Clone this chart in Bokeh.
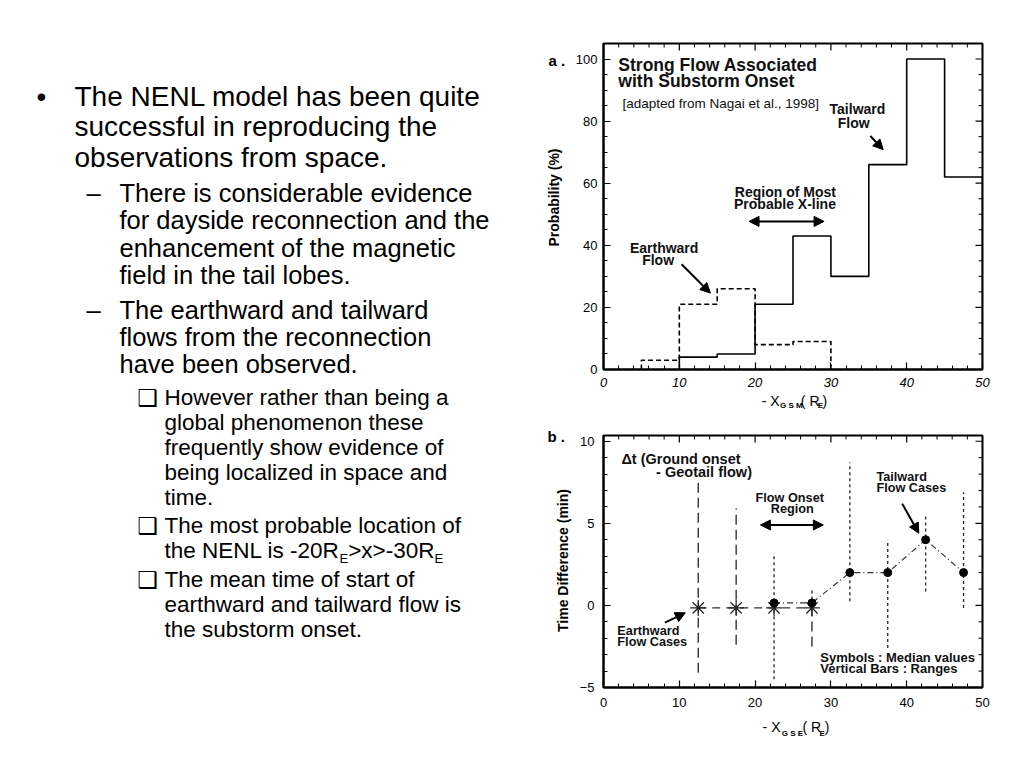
import math
from bokeh.plotting import figure
from bokeh.layouts import row, column
from bokeh.models import (Range1d, LinearAxis, Label, Arrow, NormalHead,
                          FixedTicker, ColumnDataSource)
from bokeh.embed import file_html
from bokeh.resources import INLINE
from bokeh.core.properties import value

FONT = "Liberation Sans"
NAN = float("nan")
K = 0.35  # empirical shift of the alphabetic baseline (fraction of font size)

# ---------------- slide text ----------------
bullet1 = ["The NENL model has been quite",
           "successful in reproducing the",
           "observations from space."]
sub1 = ["There is considerable evidence",
        "for dayside reconnection and the",
        "enhancement of the magnetic",
        "field in the tail lobes."]
sub2 = ["The earthward and tailward",
        "flows from the reconnection",
        "have been observed."]
box1 = ["However rather than being a",
        "global phenomenon these",
        "frequently show evidence of",
        "being localized in space and",
        "time."]
box2_first = "The most probable location of"
box2_parts = ["the NENL is -20R", "E", ">x>-30R", "E"]
box3 = ["The mean time of start of",
        "earthward and tailward flow is",
        "the substorm onset."]

# ---------------- panel a data ----------------
tail_edges = [10, 15, 20, 25, 30, 35, 40, 45, 50]
tail_prob = [4, 5, 21, 43, 30, 66, 100, 62]
earth_edges = [5, 10, 15, 20, 25, 30]
earth_prob = [3, 21, 26, 8, 9]
a_xticks = [0, 10, 20, 30, 40, 50]
a_yticks = [0, 20, 40, 60, 80, 100]

# ---------------- panel b data ----------------
earth_x = [12.5, 17.5, 22.5, 27.5]
earth_med = [-0.15, -0.15, -0.15, -0.15]
earth_lo = [-4.1, -2.4, NAN, -2.5]
earth_hi = [7.6, 5.9, NAN, -0.2]
tail_x = [22.5, 27.5, 32.5, 37.5, 42.5, 47.5]
tail_med = [0.15, 0.15, 2.0, 2.0, 4.0, 2.0]
tail_lo = [-4.5, 0.0, 0.25, -2.6, 0.85, -0.15]
tail_hi = [3.2, 0.95, 8.7, 4.0, 5.6, 6.9]
b_xticks = [0, 10, 20, 30, 40, 50]
b_yticks = [-5, 0, 5, 10]


def stairs(edges, vals):
    xs, ys = [edges[0]], [0]
    for i, v in enumerate(vals):
        xs += [edges[i], edges[i + 1]]
        ys += [v, v]
    xs.append(edges[-1])
    ys.append(0)
    return xs, ys


def style_axis(ax, ticks, minor, italic=False, standoff=6):
    ax.ticker = FixedTicker(ticks=ticks, minor_ticks=minor)
    ax.axis_line_width = 2
    ax.axis_line_color = "black"
    ax.major_tick_in = 7
    ax.major_tick_out = 0
    ax.minor_tick_in = 4
    ax.minor_tick_out = 0
    ax.major_tick_line_color = "black"
    ax.minor_tick_line_color = "black"
    ax.major_tick_line_width = 1.2
    ax.major_label_text_font = FONT
    ax.major_label_text_font_size = "13px"
    ax.major_label_text_color = "black"
    ax.major_label_standoff = standoff
    ax.major_label_text_font_style = "italic" if italic else "normal"


def mirror_ticks(p, xticks, xminor, yticks, yminor, xmax, ymax):
    # inward ticks on the right and top frame edges
    p.ray(x=[xmax] * len(yticks), y=yticks, length=7, length_units="screen",
          angle=math.pi, line_color="black", line_width=1.2)
    p.ray(x=[xmax] * len(yminor), y=yminor, length=4, length_units="screen",
          angle=math.pi, line_color="black", line_width=1)
    p.ray(x=xticks, y=[ymax] * len(xticks), length=7, length_units="screen",
          angle=-math.pi / 2, line_color="black", line_width=1.2)
    p.ray(x=xminor, y=[ymax] * len(xminor), length=4, length_units="screen",
          angle=-math.pi / 2, line_color="black", line_width=1)


def lab(p, x, y, text, fs, ppu, style="bold", align="left"):
    p.add_layout(Label(x=x, y=y + K * fs / ppu, text=text, text_font=FONT,
                       text_font_size=f"{fs}px", text_font_style=style,
                       text_align=align, text_baseline="alphabetic",
                       text_color="#111"))


def arrow(p, x0, y0, x1, y1, double=False):
    head = lambda: NormalHead(size=10, fill_color="black", line_color="black")
    kw = dict(end=head(), x_start=x0, y_start=y0, x_end=x1, y_end=y1,
              line_width=2, line_color="black")
    if double:
        kw["start"] = head()
    p.add_layout(Arrow(**kw))


def make_fig(w, h, xr, yr, ml, mr, mt, mb):
    p = figure(width=w, height=h, x_range=xr, y_range=yr,
               x_axis_type=None, y_axis_type=None,
               output_backend="svg", toolbar_location=None,
               min_border_left=ml, min_border_right=mr,
               min_border_top=mt, min_border_bottom=mb)
    p.outline_line_color = "black"
    p.outline_line_width = 2
    p.background_fill_color = "white"
    p.border_fill_color = "white"
    return p


def text_fig(x0, x1, y0, y1):
    # plain page-like figure: data units are pixels, y grows downward
    p = figure(width=x1 - x0, height=y1 - y0, x_range=Range1d(x0, x1),
               y_range=Range1d(y1, y0), x_axis_type=None, y_axis_type=None,
               output_backend="svg", toolbar_location=None, min_border=0)
    p.outline_line_color = None
    p.background_fill_color = "white"
    p.border_fill_color = "white"
    return p


def ptext(p, xs, ys, texts, fs, font=FONT, style="normal", angle=0.0, align="left"):
    if angle == 0:
        ys = [y - K * fs for y in ys]
    src = ColumnDataSource(dict(x=xs, y=ys, t=texts))
    p.text(x="x", y="y", text="t", source=src, text_font=value(font),
           text_font_size=f"{fs}px", text_font_style=style, angle=angle,
           text_baseline="alphabetic", text_align=align, text_color="black")


# ================= text panel =================
pt = text_fig(0, 540, 0, 752)
L1, L2, L3 = 28, 25.5, 22.5


def block(lines, x, y0, step, fs):
    ptext(pt, [x] * len(lines), [y0 + i * step for i in range(len(lines))], lines, fs)


block(bullet1, 74, 105.7, 30.5, L1)
ptext(pt, [36], [105.7], ["\u2022"], L1)
block(sub1, 119, 201.7, 27.2, L2)
ptext(pt, [86], [201.7], ["\u2013"], L2)
block(sub2, 119, 318.3, 27.3, L2)
ptext(pt, [86], [318.3], ["\u2013"], L2)
block(box1, 164, 405, 25, L3)
block([box2_first], 164, 533, 25, L3)
block(box3, 164, 587, 25, L3)
ptext(pt, [137, 137, 137], [406, 534, 588], ["\u2751"] * 3, 23, font="DejaVu Sans")
# line with subscripts
ptext(pt, [164], [558], [box2_parts[0]], L3)
ptext(pt, [339], [562.5], [box2_parts[1]], 13)
ptext(pt, [347.7], [558], [box2_parts[2]], L3)
ptext(pt, [434], [562.5], [box2_parts[3]], 13)

# ================= panel labels / y titles =================
pl = text_fig(540, 572, 0, 752)
ptext(pl, [548], [65], ["a ."], 15, style="bold")
ptext(pl, [547], [441], ["b ."], 15, style="bold")
ptext(pl, [553], [197], ["Probability (%)"], 14, style="bold",
      angle=math.pi / 2, align="center")
ptext(pl, [562], [560], ["Time Difference (min)"], 14, style="bold",
      angle=math.pi / 2, align="center")

# ================= panel a =================
PPU_A = 3.1
pa = make_fig(436, 392, Range1d(0, 50), Range1d(0, 105), 28, 25, 43, 23)
a_xminor = [v for v in range(0, 51, 2) if v % 10]
a_yminor = [v for v in range(0, 106, 5) if v % 20]
xa = LinearAxis()
style_axis(xa, a_xticks, a_xminor, italic=True, standoff=8)
pa.add_layout(xa, "below")
ya = LinearAxis()
style_axis(ya, a_yticks, a_yminor, standoff=6)
pa.add_layout(ya, "left")
mirror_ticks(pa, a_xticks, a_xminor, a_yticks, a_yminor, 50, 105)

tx, ty = stairs(tail_edges, tail_prob)
pa.line(tx, ty, line_color="black", line_width=1.6)
ex, ey = stairs(earth_edges, earth_prob)
pa.line(ex, ey, line_color="black", line_width=1.6, line_dash="5 3")

lab(pa, 1.96, 96.1, "Strong Flow Associated", 17.5, PPU_A)
lab(pa, 1.96, 90.8, "with Substorm Onset", 17.5, PPU_A)
lab(pa, 2.5, 84.0, "[adapted from Nagai et al., 1998]", 13.5, PPU_A, style="normal")
lab(pa, 33.5, 82.2, "Tailward", 14, PPU_A, align="center")
lab(pa, 33.0, 77.8, "Flow", 14, PPU_A, align="center")
arrow(pa, 35.2, 75.2, 36.9, 70.8)
lab(pa, 24.0, 55.6, "Region of Most", 14, PPU_A, align="center")
lab(pa, 24.2, 51.7, "Probable  X-line", 14, PPU_A, align="center")
arrow(pa, 19.2, 47.7, 29.1, 47.7, double=True)
lab(pa, 8.0, 37.7, "Earthward", 14, PPU_A, align="center")
lab(pa, 7.2, 33.8, "Flow", 14, PPU_A, align="center")
arrow(pa, 10.3, 33.9, 14.1, 24.6)

# x-axis title of panel a (with subscripts)
ta = text_fig(572, 1008, 392, 420)
ptext(ta, [754], [405], ["- X"], 14)
ptext(ta, [775], [407.5], ["G S M"], 8, style="bold")
ptext(ta, [799], [405], ["( R"], 14)
ptext(ta, [818.5], [407.5], ["E"], 8, style="bold")
ptext(ta, [824], [405], [")"], 14)

# ================= panel b =================
PPU_B = 16.5
pb = make_fig(436, 293, Range1d(0, 50), Range1d(-5, 10.35), 28, 26, 15, 26)
b_xminor = [v for v in range(0, 51, 2) if v % 10]
b_yminor = [v for v in range(-5, 11) if v % 5]
xb = LinearAxis()
style_axis(xb, b_xticks, b_xminor, standoff=10)
pb.add_layout(xb, "below")
yb = LinearAxis()
style_axis(yb, b_yticks, b_yminor, standoff=9)
pb.add_layout(yb, "left")
mirror_ticks(pb, b_xticks, b_xminor, b_yticks, b_yminor, 50, 10.35)

esrc = ColumnDataSource(dict(x=earth_x, med=earth_med, lo=earth_lo, hi=earth_hi))
tsrc = ColumnDataSource(dict(x=tail_x, med=tail_med, lo=tail_lo, hi=tail_hi))
pb.segment(x0="x", y0="lo", x1="x", y1="hi", source=esrc, line_color="#222",
           line_width=1.3, line_dash="10 5")
pb.segment(x0="x", y0="lo", x1="x", y1="hi", source=tsrc, line_color="#222",
           line_width=1.3, line_dash="3 3")
pb.line(x="x", y="med", source=esrc, line_color="#333", line_width=1.3, line_dash="8 6")
pb.line(x="x", y="med", source=tsrc, line_color="#333", line_width=1.2, line_dash="6 3 1 3")
pb.scatter(x="x", y="med", source=esrc, marker="asterisk", size=16,
           line_color="#222", line_width=1.2)
pb.scatter(x="x", y="med", source=tsrc, marker="circle", size=8,
           fill_color="black", line_color="black")

lab(pb, 2.36, 8.63, "\u0394t (Ground onset", 14.5, PPU_B)
lab(pb, 6.94, 7.82, "- Geotail flow)", 14.5, PPU_B)
lab(pb, 24.8, 6.3, "Flow  Onset", 12.7, PPU_B, align="center")
lab(pb, 24.9, 5.6, "Region", 12.7, PPU_B, align="center")
arrow(pb, 20.7, 4.9, 29.0, 4.9, double=True)
lab(pb, 36.0, 7.58, "Tailward", 12.7, PPU_B)
lab(pb, 36.0, 6.9, "Flow  Cases", 12.7, PPU_B)
arrow(pb, 39.4, 6.2, 41.6, 4.4)
lab(pb, 1.83, -1.84, "Earthward", 12.7, PPU_B)
lab(pb, 1.83, -2.52, "Flow  Cases", 12.7, PPU_B)
arrow(pb, 8.1, -1.05, 10.8, -0.45)
lab(pb, 28.6, -3.43, "Symbols  :  Median  values", 13, PPU_B)
lab(pb, 28.6, -4.14, "Vertical  Bars  :  Ranges", 13, PPU_B)

# x-axis title of panel b (with subscripts)
tb = text_fig(572, 1008, 713, 745)
ptext(tb, [755], [731], ["- X"], 14)
ptext(tb, [777], [736], ["G S E"], 8, style="bold")
ptext(tb, [801], [731], ["( R"], 14)
ptext(tb, [820.5], [736], ["E"], 8, style="bold")
ptext(tb, [826.5], [731], [")"], 14)

layout = row(pt, pl, column(pa, ta, pb, tb))
open("out.html", "w").write(file_html(layout, INLINE))
